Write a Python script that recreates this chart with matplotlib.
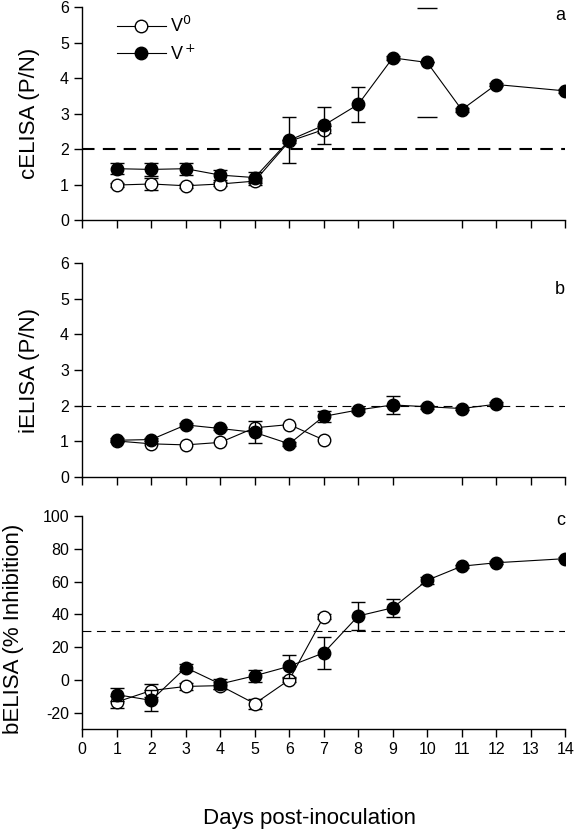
import matplotlib.pyplot as plt
from matplotlib.lines import Line2D

plt.rcParams['font.family'] = ['Liberation Sans', 'DejaVu Sans']
plt.rcParams['axes.unicode_minus'] = False

# panel a - cELISA
a_days0 = [1, 2, 3, 4, 5, 6, 7]
a_v0 = [0.99, 1.02, 0.97, 1.02, 1.10, 2.22, 2.55]
a_v0_err = [0.05, 0.18, 0.05, 0.05, 0.10, 0.05, 0.10]
a_days1 = [1, 2, 3, 4, 5, 6, 7, 8, 9, 10, 11, 12, 14]
a_v1 = [1.45, 1.43, 1.45, 1.27, 1.20, 2.25, 2.67, 3.26, 4.57, 4.44, 3.11, 3.82, 3.64]
a_v1_err = [0.15, 0.18, 0.17, 0.14, 0.15, 0.65, 0.53, 0.50, 0.05, 0.0, 0.05, 0.05, 0.05]
a_cut = 2

# panel b - iELISA
b_days0 = [1, 2, 3, 4, 5, 6, 7]
b_v0 = [1.01, 0.93, 0.90, 0.97, 1.38, 1.47, 1.04]
b_days1 = [1, 2, 3, 4, 5, 6, 7, 8, 9, 10, 11, 12]
b_v1 = [1.03, 1.05, 1.46, 1.36, 1.25, 0.93, 1.70, 1.88, 2.02, 1.97, 1.92, 2.04]
b_v1_err = [0.05, 0.05, 0.06, 0.05, 0.31, 0.05, 0.15, 0.05, 0.26, 0.05, 0.05, 0.05]
b_cut = 2

# panel c - bELISA
c_days0 = [1, 2, 3, 4, 5, 6, 7]
c_v0 = [-13.5, -6.5, -4.0, -3.5, -14.5, 0.0, 38.5]
c_v0_err = [3.5, 3.8, 2.0, 2.0, 3.0, 1.5, 1.5]
c_days1 = [1, 2, 3, 4, 5, 6, 7, 8, 9, 10, 11, 12, 14]
c_v1 = [-9.0, -12.5, 7.5, -2.5, 2.5, 8.3, 16.5, 39.0, 44.0, 60.8, 69.4, 71.5, 74.0]
c_v1_err = [4.0, 6.5, 2.0, 3.0, 3.5, 7.0, 9.8, 8.7, 5.5, 2.0, 1.0, 1.0, 1.0]
c_cut = 30

days_ticks = list(range(0, 15))

fig = plt.figure(figsize=(5.75, 8.31), dpi=100)
left, width = 0.143, 0.840
ax_a = fig.add_axes([left, 0.735, width, 0.2565])
ax_b = fig.add_axes([left, 0.426, width, 0.2575])
ax_c = fig.add_axes([left, 0.1227, width, 0.2563])

mk = dict(marker='o', markersize=9, color='black', lw=0.8,
          capsize=5, elinewidth=1.0, capthick=1.0, markeredgewidth=1.0)


def panel(ax, d0, v0, e0, d1, v1, e1):
    ax.errorbar(d0, v0, yerr=e0, markerfacecolor='white', zorder=3, **mk)
    ax.errorbar(d1, v1, yerr=e1, markerfacecolor='black', zorder=4, **mk)


panel(ax_a, a_days0, a_v0, a_v0_err, a_days1, a_v1, a_v1_err)
# caps left over at day 10 (bar line missing in the original)
ax_a.plot([10, 10], [5.97, 2.9], ls='none', marker='_', markersize=14,
          markeredgewidth=1.0, color='black')
ax_a.axhline(a_cut, ls=(0, (6, 4)), lw=1.5, color='black', zorder=1)

panel(ax_b, b_days0, b_v0, None, b_days1, b_v1, b_v1_err)
ax_b.axhline(b_cut, ls=(0, (8, 5)), lw=0.8, color='black', zorder=1)

panel(ax_c, c_days0, c_v0, c_v0_err, c_days1, c_v1, c_v1_err)
ax_c.axhline(c_cut, ls=(0, (8, 5)), lw=0.8, color='black', zorder=1)

for ax in (ax_a, ax_b, ax_c):
    ax.set_xlim(0, 14)
    ax.spines['top'].set_visible(False)
    ax.spines['right'].set_visible(False)
    ax.tick_params(direction='out', length=6, width=1, labelsize=11.5)
    ax.spines['left'].set_linewidth(1)
    ax.spines['bottom'].set_linewidth(1)

for ax in (ax_a, ax_b):
    ax.set_ylim(0, 6)
    ax.set_yticks(range(0, 7))
    ax.set_xticks([d for d in days_ticks if d != 10])
    ax.set_xticklabels([])

ax_c.set_ylim(-30, 100)
ax_c.set_yticks(range(-20, 101, 20))
ax_c.set_xticks(days_ticks)
ax_c.set_xlabel('Days post-inoculation', fontsize=16)
ax_c.xaxis.set_label_coords(0.471, -0.37)

ax_a.set_ylabel('cELISA (P/N)', fontsize=16)
ax_b.set_ylabel('iELISA (P/N)', fontsize=16)
ax_c.set_ylabel('bELISA (% Inhibition)', fontsize=16)
ax_a.yaxis.set_label_coords(-0.088, 0.5)
ax_b.yaxis.set_label_coords(-0.088, 0.5)
ax_c.yaxis.set_label_coords(-0.12, 0.47)

ax_a.text(14, 6, 'a', ha='right', va='top', fontsize=13)
ax_b.text(14, 5.25, 'b', ha='right', va='center', fontsize=13)
ax_c.text(14, 97, 'c', ha='right', va='center', fontsize=13)

handles = [
    Line2D([], [], color='black', lw=0.8, marker='o', markersize=9,
           markerfacecolor='white', markeredgewidth=1.0),
    Line2D([], [], color='black', lw=0.8, marker='o', markersize=9,
           markerfacecolor='black', markeredgewidth=1.0),
]
ax_a.legend(handles, ['V$^0$', 'V$^+$'], loc='upper left',
            bbox_to_anchor=(0.038, 1.035), frameon=False, handlelength=2.7,
            fontsize=13, handletextpad=0.25, labelspacing=0.45)

fig.savefig('out.png', dpi=100)
